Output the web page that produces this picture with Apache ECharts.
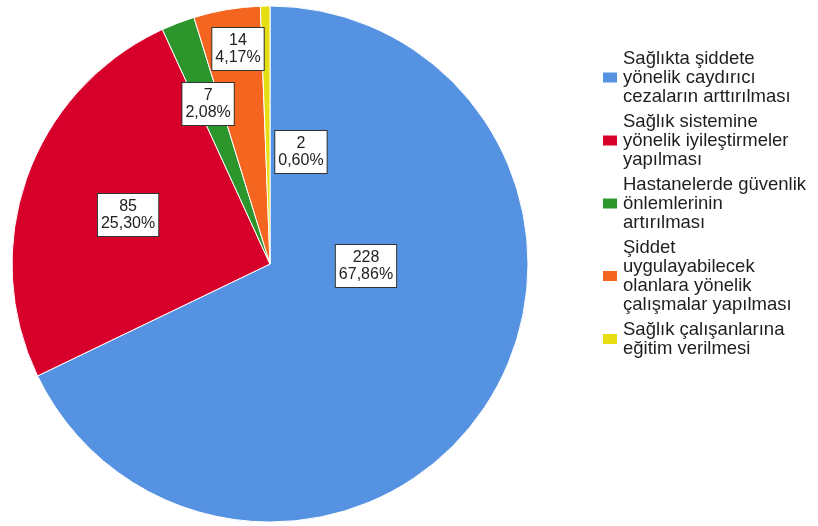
<!DOCTYPE html>
<html>
<head>
<meta charset="utf-8">
<script src="https://cdn.jsdelivr.net/npm/echarts@6/dist/echarts.min.js"></script>
<style>
  html, body { margin: 0; padding: 0; background: #fff; }
  #chart { width: 818px; height: 526px; }
</style>
</head>
<body>
<div id="chart"></div>
<script>
// Categories (legend text, wrapped as in the legend)
const categories = [
  'Sağlıkta şiddete\nyönelik caydırıcı\ncezaların arttırılması',
  'Sağlık sistemine\nyönelik iyileştirmeler\nyapılması',
  'Hastanelerde güvenlik\nönlemlerinin\nartırılması',
  'Şiddet\nuygulayabilecek\nolanlara yönelik\nçalışmalar yapılması',
  'Sağlık çalışanlarına\neğitim verilmesi'
];
// Response counts
const counts = [228, 85, 7, 14, 2];

// Slice colours
const colors = ['#5592E2', '#D7002B', '#2C962C', '#F4661F', '#E6DD12'];

// Label anchor for each slice, as a fraction of the radius from the centre
const labelSpots = [
  [0.372, 0.008],
  [-0.550, -0.190],
  [-0.240, -0.620],
  [-0.124, -0.833],
  [0.120, -0.434]
];

const CX = 270, CY = 264, R = 258;
const FONT = 'Arial, "Liberation Sans", sans-serif';
const total = counts.reduce((a, b) => a + b, 0);

const chart = echarts.init(document.getElementById('chart'), null, { renderer: 'canvas' });

chart.setOption({
  animation: false,
  color: colors,
  legend: {
    orient: 'vertical',
    left: 601,
    top: 49,
    padding: 0,
    itemWidth: 16,
    itemHeight: 12,
    itemGap: 6,
    icon: 'rect',
    textStyle: { fontFamily: FONT, fontSize: 18.5, lineHeight: 19, color: '#1e1e1e' },
    data: categories
  },
  series: [{
    type: 'pie',
    center: [CX, CY],
    radius: R,
    startAngle: 90,
    clockwise: true,
    avoidLabelOverlap: false,
    itemStyle: { borderColor: '#ffffff', borderWidth: 1 },
    emphasis: { disabled: true },
    label: {
      show: true,
      position: 'inside',
      align: 'center',
      verticalAlign: 'middle',
      fontFamily: FONT,
      fontSize: 16,
      lineHeight: 17,
      color: '#222',
      backgroundColor: '#ffffff',
      borderColor: '#333',
      borderWidth: 1,
      padding: [4, 3],
      formatter: p => p.value + '\n' + (p.value / total * 100).toFixed(2).replace('.', ',') + '%'
    },
    labelLine: { show: false },
    labelLayout: p => ({
      x: CX + labelSpots[p.dataIndex][0] * R,
      y: CY + labelSpots[p.dataIndex][1] * R,
      align: 'center',
      verticalAlign: 'middle'
    }),
    data: categories.map((name, i) => ({ name, value: counts[i] }))
  }]
});
</script>
</body>
</html>
